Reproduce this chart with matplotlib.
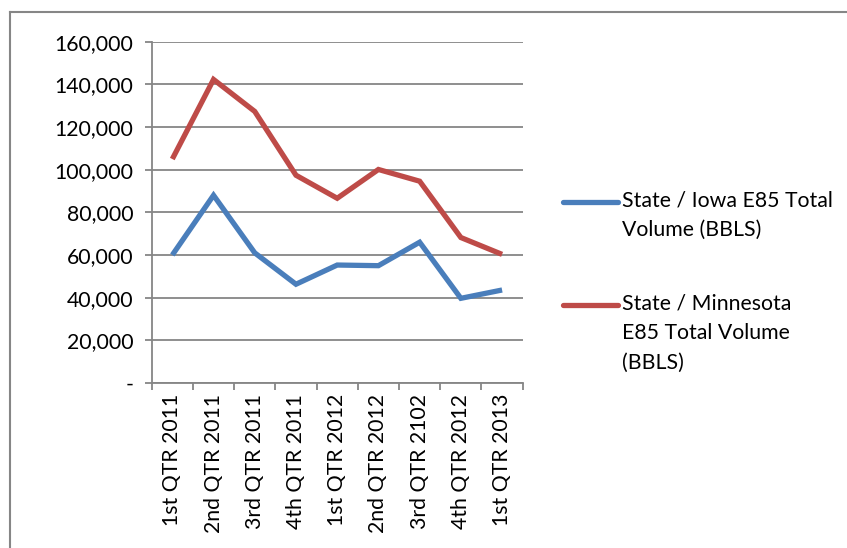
import matplotlib
matplotlib.use("Agg")
import matplotlib.pyplot as plt
from matplotlib.lines import Line2D
from matplotlib.ticker import FuncFormatter, FixedLocator

categories = ["1st QTR 2011", "2nd QTR 2011", "3rd QTR 2011", "4th QTR 2011",
              "1st QTR 2012", "2nd QTR 2012", "3rd QTR 2102", "4th QTR 2012",
              "1st QTR 2013"]
iowa = [60000, 88000, 61000, 46300, 55300, 55000, 66000, 39700, 43600]
minnesota = [105000, 142300, 127300, 97400, 86600, 100100, 94600, 68200, 60300]
iowa_label = "State / Iowa E85 Total\nVolume (BBLS)"
mn_label = "State / Minnesota\nE85 Total Volume\n(BBLS)"

plt.rcParams['font.family'] = ['Lato', 'DejaVu Sans']
W, H = 847, 548
FS = 15.3
fig = plt.figure(figsize=(W/100, H/100), dpi=100)

# outer border (left and top visible)
fig.add_artist(Line2D([10/W, 10/W], [0, 1-12/H], color="#868686", lw=1.5, transform=fig.transFigure))
fig.add_artist(Line2D([10/W, 1], [1-12/H, 1-12/H], color="#868686", lw=1.5, transform=fig.transFigure))

ax = fig.add_axes([151.7/W, 1-383/H, 371/W, (383-41.7)/H])
x = list(range(len(categories)))
blue = "#4A7EBB"
red = "#BE4B48"
ax.plot(x, iowa, color=blue, lw=3.8, solid_joinstyle="miter", solid_capstyle="butt")
ax.plot(x, minnesota, color=red, lw=3.8, solid_joinstyle="miter", solid_capstyle="butt")

ax.set_xlim(-0.5, len(categories)-0.5)
ax.set_ylim(0, 160000)
ax.set_yticks(range(0, 160001, 20000))
ax.yaxis.set_major_formatter(FuncFormatter(lambda v, p: "-" if v == 0 else f"{int(v):,}"))
ax.grid(axis="y", color="#868686", lw=1.3)
ax.set_axisbelow(True)

ax.xaxis.set_major_locator(FixedLocator([i - 0.5 for i in range(len(categories)+1)]))
ax.xaxis.set_minor_locator(FixedLocator(x))
ax.set_xticklabels([""]*(len(categories)+1))
ax.set_xticklabels(categories, minor=True, rotation=90, fontsize=FS)
ax.tick_params(axis="x", which="minor", length=0, pad=8)
ax.tick_params(axis="x", which="major", length=5, color="#868686", width=1.3, direction="out")
ax.tick_params(axis="y", length=5, color="#868686", width=1.3, labelsize=FS, pad=8)

for s in ["top", "right"]:
    ax.spines[s].set_visible(False)
for s in ["left", "bottom"]:
    ax.spines[s].set_color("#868686")
    ax.spines[s].set_linewidth(1.3)

# legend
def leg(y, color, label):
    fig.add_artist(Line2D([563/W, 618/W], [1-y/H, 1-y/H], color=color, lw=3.8,
                          transform=fig.transFigure, solid_capstyle="round"))
    fig.text(622/W, 1-(y-12)/H, label, fontsize=FS, va="top", ha="left",
             linespacing=1.62, color="black")

leg(202, blue, iowa_label)
leg(305, red, mn_label)

fig.savefig("out.png", dpi=100)
